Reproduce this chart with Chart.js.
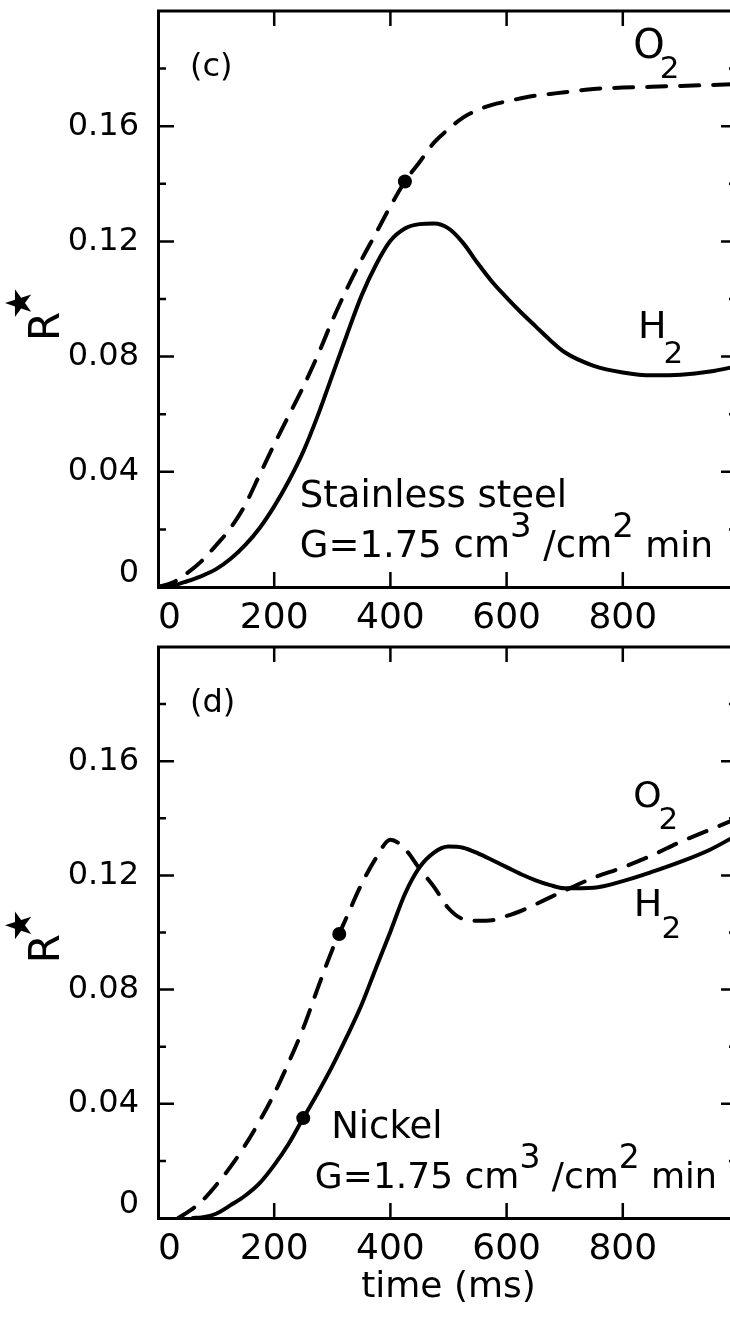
<!DOCTYPE html>
<html>
<head>
<meta charset="utf-8">
<title>R* vs time</title>
<script src="https://cdn.jsdelivr.net/npm/chart.js@4.4.1/dist/chart.umd.min.js"></script>
<style>
  html, body { margin: 0; padding: 0; background: #fff; overflow: hidden; width: 730px; height: 1319px; }
  #wrap { position: relative; width: 730px; height: 1319px; overflow: hidden; }
  canvas { position: absolute; left: 0; }
  #panelC { top: 0; }
  #panelD { top: 640px; }
</style>
</head>
<body>
<div id="wrap">
  <canvas id="panelC" width="760" height="640"></canvas>
  <canvas id="panelD" width="760" height="679"></canvas>
</div>
<script>
// ---- data: panel (c), stainless steel ----
const timeC = [0, 25, 50, 75, 100, 125, 150, 175, 200, 225, 250, 275, 300, 325, 350, 375, 400,
  425, 450, 475, 500, 525, 550, 575, 600, 625, 650, 675, 700, 750, 800, 850, 900, 950, 1000];
const o2C = [0, 0.0015, 0.0048, 0.009, 0.0145, 0.0205, 0.0285, 0.039, 0.0495, 0.0595, 0.0695,
  0.0805, 0.0925, 0.1035, 0.1135, 0.1228, 0.1322, 0.1408, 0.1475, 0.1543, 0.159, 0.163, 0.1656,
  0.1674, 0.1686, 0.1697, 0.1706, 0.1712, 0.1718, 0.1729, 0.1734, 0.1737, 0.174, 0.1743, 0.1746];
const h2C = [0, 0.0005, 0.002, 0.0038, 0.0062, 0.0098, 0.0145, 0.0205, 0.028, 0.0368, 0.047,
  0.0595, 0.0735, 0.0875, 0.101, 0.1118, 0.1202, 0.1245, 0.126, 0.1262, 0.1245, 0.1195, 0.1125,
  0.106, 0.1005, 0.0953, 0.0905, 0.0857, 0.0815, 0.0768, 0.0745, 0.0735, 0.0737, 0.0748, 0.0768];
const dotTimeC = [425];
const dotValueC = [0.1408];

// ---- data: panel (d), nickel ----
const timeD = [35, 60, 75, 100, 125, 150, 175, 200, 225, 250, 275, 300, 325, 350, 375, 400,
  425, 450, 475, 500, 525, 550, 575, 600, 625, 650, 675, 700, 750, 800, 850, 900, 950, 1000];
const o2D = [0, 0.0033, 0.0058, 0.0115, 0.018, 0.0255, 0.034, 0.0435, 0.0545, 0.0665, 0.0805,
  0.094, 0.1055, 0.1168, 0.126, 0.1325, 0.1293, 0.1224, 0.116, 0.1085, 0.1047, 0.1041, 0.1043,
  0.1058, 0.1076, 0.1099, 0.1123, 0.1147, 0.1192, 0.1228, 0.127, 0.1318, 0.136, 0.1402];
const h2D = [null, 0, 0.0002, 0.0015, 0.0045, 0.0078, 0.0122, 0.0185, 0.026, 0.035, 0.0438,
  0.0532, 0.0635, 0.0745, 0.0875, 0.1003, 0.1135, 0.1228, 0.128, 0.1301, 0.1297, 0.1278, 0.1254,
  0.1229, 0.1204, 0.1183, 0.1166, 0.1155, 0.1157, 0.118, 0.1212, 0.1248, 0.129, 0.1345];
const dotTimeD = [312, 250];
const dotValueD = [0.0995, 0.035];

// ---- tick labels ----
const xLabelValues = [0, 200, 400, 600, 800];
const xLabelTexts = ['0', '200', '400', '600', '800'];
const yLabelValues = [0, 0.04, 0.08, 0.12, 0.16];
const yLabelTexts = ['0', '0.04', '0.08', '0.12', '0.16'];

const FONT = "'DejaVu Sans', sans-serif";
const INK = '#000';

function curve(times, values, dashed) {
  return {
    type: 'line',
    data: times.map((t, i) => ({ x: t, y: values[i] })).filter(p => p.y !== null),
    borderColor: INK,
    borderWidth: 4,
    borderDash: dashed ? [19, 14] : [],
    borderCapStyle: 'round',
    borderJoinStyle: 'round',
    cubicInterpolationMode: 'monotone',
    pointRadius: 0,
    fill: false
  };
}

function dots(times, values) {
  return {
    type: 'line',
    showLine: false,
    data: times.map((t, i) => ({ x: t, y: values[i] })),
    pointRadius: 7,
    pointBackgroundColor: INK,
    pointBorderWidth: 0
  };
}

// Inward tick marks on all four sides plus the top and right edges of the frame.
const frameMarks = {
  id: 'frameMarks',
  afterDraw(chart) {
    const { ctx, chartArea: a, scales: { x, y } } = chart;
    const step = y.options.ticks.stepSize;
    ctx.save();
    ctx.strokeStyle = INK;
    ctx.lineCap = 'butt';
    ctx.lineWidth = 3;
    ctx.beginPath();
    ctx.moveTo(a.left - 1, a.top);
    ctx.lineTo(a.right, a.top);
    ctx.lineTo(a.right, a.bottom + 1);
    ctx.stroke();
    ctx.lineWidth = 2.5;
    ctx.beginPath();
    y.ticks.forEach(t => {
      const k = Math.round(t.value / step);
      if (t.value <= y.min || t.value >= y.max) return;
      const len = k % 2 === 0 ? 16 : 8;
      const py = y.getPixelForValue(t.value);
      ctx.moveTo(a.left, py); ctx.lineTo(a.left + len, py);
      ctx.moveTo(a.right, py); ctx.lineTo(a.right - len - 2, py);
    });
    x.ticks.forEach(t => {
      if (t.value <= x.min || t.value >= x.max) return;
      const px = x.getPixelForValue(t.value);
      ctx.moveTo(px, a.bottom); ctx.lineTo(px, a.bottom - 15);
      ctx.moveTo(px, a.top); ctx.lineTo(px, a.top + 15);
    });
    ctx.stroke();
    ctx.restore();
  }
};

// Text notes placed in data coordinates, and the rotated R* beside the value axis.
function panelNotes(items, axisMark) {
  return {
    id: 'panelNotes',
    afterDraw(chart) {
      const { ctx, chartArea, scales: { x, y } } = chart;
      ctx.save();
      ctx.fillStyle = INK;
      ctx.textAlign = 'left';
      ctx.textBaseline = 'alphabetic';
      for (const item of items) {
        let px = x.getPixelForValue(item.t);
        const py = y.getPixelForValue(item.r);
        for (const run of item.runs) {
          ctx.font = run.size + 'px ' + FONT;
          px += run.dx || 0;
          ctx.fillText(run.text, px, py + (run.dy || 0));
          px += ctx.measureText(run.text).width;
        }
      }
      ctx.translate(chartArea.left - 99, y.getPixelForValue(axisMark.r));
      ctx.rotate(-Math.PI / 2);
      ctx.font = '42px ' + FONT;
      ctx.fillText('R', 0, 0);
      ctx.font = '36px ' + FONT;
      ctx.textAlign = 'center';
      ctx.textBaseline = 'middle';
      ctx.fillText('\u2605', 38, -37);
      ctx.restore();
    }
  };
}

function panelOptions(cfg) {
  return {
    responsive: false,
    animation: false,
    devicePixelRatio: 1,
    layout: { padding: { top: cfg.padTop, right: 21, left: 0, bottom: 0 } },
    plugins: { legend: { display: false }, tooltip: { enabled: false } },
    scales: {
      x: {
        type: 'linear',
        position: 'bottom',
        min: 0,
        max: 1000,
        afterFit: s => { s.height = cfg.xHeight; s.paddingLeft = 0; s.paddingRight = 0; },
        grid: { display: false },
        border: { display: true, color: INK, width: 3 },
        ticks: {
          stepSize: 200,
          autoSkip: false,
          maxRotation: 0,
          padding: 2,
          color: INK,
          font: { family: FONT, size: 36 },
          callback: v => {
            const i = xLabelValues.indexOf(v);
            if (i < 0) return '';
            // the corner zero sits a little right of the axis line
            return i === 0 ? '  ' + xLabelTexts[i] : xLabelTexts[i];
          }
        },
        title: cfg.xTitle
          ? { display: true, text: cfg.xTitle, color: INK, font: { family: FONT, size: 36 }, padding: { top: 0, bottom: 10 } }
          : { display: false }
      },
      y: {
        type: 'linear',
        min: 0,
        max: 0.2,
        afterFit: s => { s.width = 158; s.paddingTop = 0; s.paddingBottom = 0; },
        grid: { display: false },
        border: { display: true, color: INK, width: 3 },
        ticks: {
          stepSize: 0.02,
          autoSkip: false,
          padding: 11,
          color: INK,
          font: c => ({ family: FONT, size: 32, lineHeight: (c.tick && c.tick.value === 0) ? 0.82 : 1.2 }),
          callback: v => {
            const i = yLabelValues.findIndex(u => Math.abs(u - v) < 1e-9);
            if (i < 0) return '';
            // zero is lifted clear of the time axis labels
            return i === 0 ? [yLabelTexts[i], ''] : yLabelTexts[i];
          }
        }
      }
    }
  };
}

const notesC = [
  { t: 55, r: 0.1774, runs: [{ text: '(c)', size: 32 }] },
  { t: 818, r: 0.1837, runs: [{ text: 'O', size: 40 }, { text: '2', size: 31, dx: -5, dy: 20 }] },
  { t: 826, r: 0.0865, runs: [{ text: 'H', size: 38 }, { text: '2', size: 31, dx: -3, dy: 25 }] },
  { t: 244, r: 0.0278, runs: [{ text: 'Stainless steel', size: 37 }] },
  { t: 244, r: 0.0104, runs: [
    { text: 'G=1.75 cm', size: 37 }, { text: '3', size: 34, dx: 0, dy: -20 },
    { text: ' /cm', size: 37 }, { text: '2', size: 34, dx: 0, dy: -20 }, { text: ' min', size: 36 }] }
];

const notesD = [
  { t: 55, r: 0.1771, runs: [{ text: '(d)', size: 32 }] },
  { t: 818, r: 0.1441, runs: [{ text: 'O', size: 36 }, { text: '2', size: 31, dx: -3, dy: 22 }] },
  { t: 819, r: 0.1059, runs: [{ text: 'H', size: 38 }, { text: '2', size: 31, dx: -1, dy: 22 }] },
  { t: 298, r: 0.0281, runs: [{ text: 'Nickel', size: 37 }] },
  { t: 270, r: 0.0104, runs: [
    { text: 'G=1.75 cm', size: 36 }, { text: '3', size: 33, dx: 0, dy: -20 },
    { text: ' /cm', size: 36 }, { text: '2', size: 33, dx: 0, dy: -20 }, { text: ' min', size: 35 }] }
];

new Chart(document.getElementById('panelC'), {
  type: 'line',
  data: { datasets: [curve(timeC, o2C, true), curve(timeC, h2C, false), dots(dotTimeC, dotValueC)] },
  options: panelOptions({ padTop: 11, xHeight: 53, xTitle: null }),
  plugins: [frameMarks, panelNotes(notesC, { r: 0.0854 })]
});

new Chart(document.getElementById('panelD'), {
  type: 'line',
  data: { datasets: [curve(timeD, o2D, true), curve(timeD, h2D, false), dots(dotTimeD, dotValueD)] },
  options: panelOptions({ padTop: 2, xHeight: 101, xTitle: 'time (ms)' }),
  plugins: [frameMarks, panelNotes(notesD, { r: 0.0892 })]
});
</script>
</body>
</html>
